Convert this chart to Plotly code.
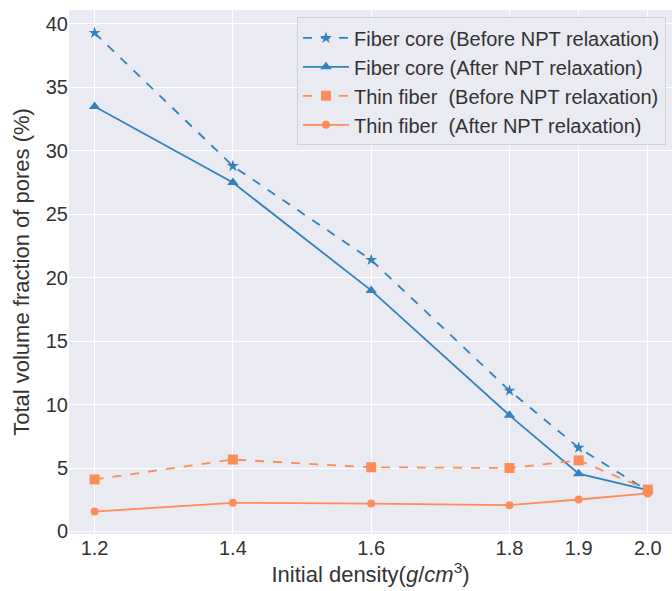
import plotly.graph_objects as go

density = [1.2, 1.4, 1.6, 1.8, 1.9, 2.0]
core_before = [39.3, 28.8, 21.4, 11.1, 6.6, 3.2]
core_after = [33.5, 27.5, 19.0, 9.15, 4.55, 3.25]
thin_before = [4.1, 5.67, 5.06, 5.0, 5.6, 3.3]
thin_after = [1.57, 2.26, 2.2, 2.07, 2.52, 3.0]
x_ticks = [1.2, 1.4, 1.6, 1.8, 1.9, 2.0]
x_tick_text = ["1.2", "1.4", "1.6", "1.8", "1.9", "2.0"]
y_ticks = [0, 5, 10, 15, 20, 25, 30, 35, 40]

BLUE = "#3182bd"
ORANGE = "#fc8d59"
TXT = "#333333"

fig = go.Figure()
series = [
    ("Fiber core (Before NPT relaxation)", core_before, BLUE, "dash", "star", 9),
    ("Fiber core (After NPT relaxation)", core_after, BLUE, "solid", "triangle-up", 10),
    ("Thin fiber  (Before NPT relaxation)", thin_before, ORANGE, "dash", "square", 10),
    ("Thin fiber  (After NPT relaxation)", thin_after, ORANGE, "solid", "circle", 8),
]
for i, (name, ys, col, dash, sym, sz) in enumerate(series):
    fig.add_trace(go.Scatter(
        x=density, y=ys, name=name, mode="lines+markers",
        line=dict(color=col, width=1.8, dash=dash),
        marker=dict(symbol=sym, size=sz, color=col, line=dict(width=0)),
        legendgroup=f"g{i}",
    ))

font = "Liberation Sans, Arial, sans-serif"
fig.update_layout(
    width=672, height=591,
    margin=dict(l=69, r=0, t=10, b=57),
    paper_bgcolor="white",
    plot_bgcolor="#EAEAF2",
    font=dict(family=font, size=20, color=TXT),
    showlegend=True,
    legend=dict(
        x=0.99, y=0.986, xanchor="right", yanchor="top",
        bgcolor="rgba(234,234,242,0.85)",
        bordercolor="#d0d0d8", borderwidth=1,
        font=dict(family=font, size=20, color=TXT),
        tracegroupgap=0,
        itemwidth=46,
    ),
    xaxis=dict(
        range=[1.163, 2.035],
        tickvals=x_ticks, ticktext=x_tick_text,
        showgrid=True, gridcolor="white", gridwidth=1.3,
        zeroline=False, showline=False, ticks="",
        tickfont=dict(size=20, color=TXT),
        automargin=False,
        title=dict(text="Initial density(<i>g</i>/<i>cm</i><sup>3</sup>)",
                   font=dict(size=22, color=TXT), standoff=2),
    ),
    yaxis=dict(
        range=[-0.2, 41.1],
        tickvals=y_ticks,
        showgrid=True, gridcolor="white", gridwidth=1.3,
        zeroline=False, showline=False, ticks="",
        tickfont=dict(size=20, color=TXT),
        automargin=False,
        title=dict(text="Total volume fraction of pores (%)",
                   font=dict(size=22, color=TXT), standoff=10),
    ),
)

fig.write_html("out.html")
